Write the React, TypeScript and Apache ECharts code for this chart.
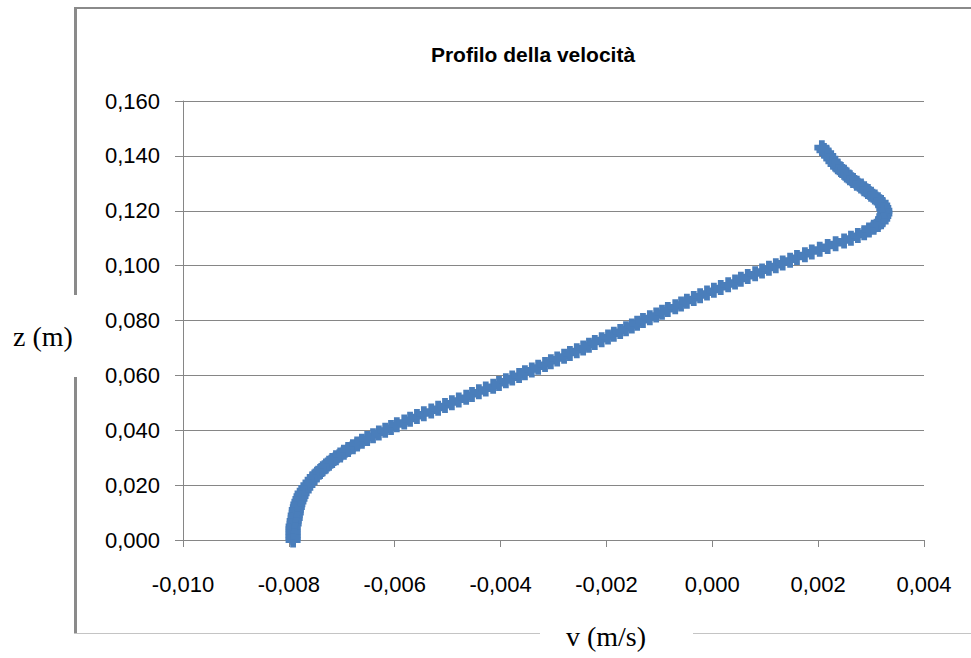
import React, { useEffect, useRef } from "react";
import * as echarts from "echarts";

// z (m) values
const zValues: number[] = [
  0.000, 0.001, 0.002, 0.003, 0.004, 0.005, 0.006, 0.007, 0.008, 0.009,
  0.010, 0.011, 0.012, 0.013, 0.014, 0.015, 0.016, 0.017, 0.018, 0.019,
  0.020, 0.021, 0.022, 0.023, 0.024, 0.025, 0.026, 0.027, 0.028, 0.029,
  0.030, 0.031, 0.032, 0.033, 0.034, 0.035, 0.036, 0.037, 0.038, 0.039,
  0.040, 0.041, 0.042, 0.043, 0.044, 0.045, 0.046, 0.047, 0.048, 0.049,
  0.050, 0.051, 0.052, 0.053, 0.054, 0.055, 0.056, 0.057, 0.058, 0.059,
  0.060, 0.061, 0.062, 0.063, 0.064, 0.065, 0.066, 0.067, 0.068, 0.069,
  0.070, 0.071, 0.072, 0.073, 0.074, 0.075, 0.076, 0.077, 0.078, 0.079,
  0.080, 0.081, 0.082, 0.083, 0.084, 0.085, 0.086, 0.087, 0.088, 0.089,
  0.090, 0.091, 0.092, 0.093, 0.094, 0.095, 0.096, 0.097, 0.098, 0.099,
  0.100, 0.101, 0.102, 0.103, 0.104, 0.105, 0.106, 0.107, 0.108, 0.109,
  0.110, 0.111, 0.112, 0.113, 0.114, 0.115, 0.116, 0.117, 0.118, 0.119,
  0.120, 0.121, 0.122, 0.123, 0.124, 0.125, 0.126, 0.127, 0.128, 0.129,
  0.130, 0.131, 0.132, 0.133, 0.134, 0.135, 0.136, 0.137, 0.138, 0.139,
  0.140, 0.141, 0.142, 0.143,
];

// v (m/s) values
const vValues: number[] = [
  -0.00792, -0.00792, -0.00792, -0.00792, -0.00792, -0.00792, -0.00790, -0.00790, -0.00788, -0.00788,
  -0.00786, -0.00786, -0.00784, -0.00783, -0.00781, -0.00779, -0.00777, -0.00775, -0.00771, -0.00768,
  -0.00764, -0.00760, -0.00756, -0.00752, -0.00747, -0.00741, -0.00736, -0.00730, -0.00724, -0.00718,
  -0.00711, -0.00703, -0.00696, -0.00688, -0.00679, -0.00671, -0.00662, -0.00652, -0.00641, -0.00630,
  -0.00618, -0.00607, -0.00596, -0.00582, -0.00571, -0.00558, -0.00545, -0.00531, -0.00518, -0.00505,
  -0.00492, -0.00479, -0.00465, -0.00454, -0.00441, -0.00428, -0.00414, -0.00403, -0.00390, -0.00378,
  -0.00365, -0.00354, -0.00341, -0.00329, -0.00316, -0.00305, -0.00293, -0.00280, -0.00269, -0.00256,
  -0.00244, -0.00233, -0.00222, -0.00209, -0.00197, -0.00186, -0.00174, -0.00163, -0.00152, -0.00142,
  -0.00131, -0.00118, -0.00106, -0.00095, -0.00084, -0.00070, -0.00059, -0.00048, -0.00035, -0.00023,
  -0.00010, 0.00003, 0.00016, 0.00030, 0.00043, 0.00054, 0.00067, 0.00081, 0.00094, 0.00107,
  0.00120, 0.00133, 0.00147, 0.00160, 0.00175, 0.00188, 0.00203, 0.00218, 0.00233, 0.00249,
  0.00262, 0.00275, 0.00287, 0.00296, 0.00305, 0.00313, 0.00319, 0.00322, 0.00324, 0.00326,
  0.00326, 0.00324, 0.00322, 0.00319, 0.00313, 0.00307, 0.00300, 0.00294, 0.00287, 0.00281,
  0.00273, 0.00266, 0.00260, 0.00254, 0.00249, 0.00243, 0.00237, 0.00232, 0.00228, 0.00224,
  0.00220, 0.00216, 0.00211, 0.00207,
];

const titleText = "Profilo della velocità";
const xName = "v (m/s)";
const yName = "z (m)";

const fmt = (v: number) => {
  const x = Math.abs(v) < 1e-9 ? 0 : v;
  return x.toFixed(3).replace(".", ",");
};

export default function App() {
  const ref = useRef<HTMLDivElement>(null);

  useEffect(() => {
    document.body.style.margin = "0";
    if (!ref.current) return;
    const chart = echarts.init(ref.current, undefined, { renderer: "svg" });
    const gray = "#868686";
    const border = "#8a8a8a";
    const option: any = {
      animation: false,
      backgroundColor: "#ffffff",
      grid: { left: 183, right: 47, top: 101, bottom: 118 },
      xAxis: {
        type: "value",
        min: -0.01,
        max: 0.004,
        interval: 0.002,
        axisLine: { show: true, onZero: false, lineStyle: { color: gray, width: 1 } },
        axisTick: { show: true, length: 7, lineStyle: { color: gray } },
        splitLine: { show: false },
        axisLabel: {
          formatter: fmt,
          margin: 33,
          color: "#000",
          fontSize: 22,
          fontFamily: "Liberation Sans, Arial, sans-serif",
        },
      },
      yAxis: {
        type: "value",
        min: 0,
        max: 0.16,
        interval: 0.02,
        axisLine: { show: true, onZero: false, lineStyle: { color: gray, width: 1 } },
        axisTick: { show: true, length: 8, lineStyle: { color: gray } },
        splitLine: { show: true, lineStyle: { color: gray, width: 1 } },
        axisLabel: {
          formatter: fmt,
          margin: 23,
          color: "#000",
          fontSize: 22,
          fontFamily: "Liberation Sans, Arial, sans-serif",
        },
      },
      series: [
        {
          type: "scatter",
          data: zValues.map((z, i) => [vValues[i], z]),
          symbol: "path://M4,0 H9 V4 H13 V9 H9 V13 H4 V9 H0 V4 H4 Z",
          symbolSize: 15,
          itemStyle: { color: "#4a7ebb", opacity: 1 },
        },
      ],
      graphic: [
        // outer frame
        { type: "line", shape: { x1: 75, y1: 8, x2: 971, y2: 8 }, style: { stroke: border, lineWidth: 2 } },
        { type: "line", shape: { x1: 75.5, y1: 7, x2: 75.5, y2: 295 }, style: { stroke: border, lineWidth: 3 } },
        { type: "line", shape: { x1: 75.5, y1: 377, x2: 75.5, y2: 634 }, style: { stroke: border, lineWidth: 3 } },
        { type: "line", shape: { x1: 74, y1: 633.5, x2: 540, y2: 633.5 }, style: { stroke: "#c4c4c4", lineWidth: 1 } },
        { type: "line", shape: { x1: 693, y1: 633.5, x2: 971, y2: 633.5 }, style: { stroke: "#c4c4c4", lineWidth: 1 } },
        {
          type: "text",
          x: 533,
          y: 54,
          style: {
            text: titleText,
            fill: "#000",
            font: "bold 21px 'Liberation Sans', Arial, sans-serif",
            textAlign: "center",
            textVerticalAlign: "middle",
          },
        },
        {
          type: "text",
          x: 43,
          y: 336,
          style: {
            text: yName,
            fill: "#000",
            font: "28px 'Liberation Serif', 'Times New Roman', serif",
            textAlign: "center",
            textVerticalAlign: "middle",
          },
        },
        {
          type: "text",
          x: 606,
          y: 636,
          style: {
            text: xName,
            fill: "#000",
            font: "28px 'Liberation Serif', 'Times New Roman', serif",
            textAlign: "center",
            textVerticalAlign: "middle",
          },
        },
      ],
    };
    chart.setOption(option);
    return () => chart.dispose();
  }, []);

  return <div ref={ref} style={{ width: 971, height: 658 }} />;
}
